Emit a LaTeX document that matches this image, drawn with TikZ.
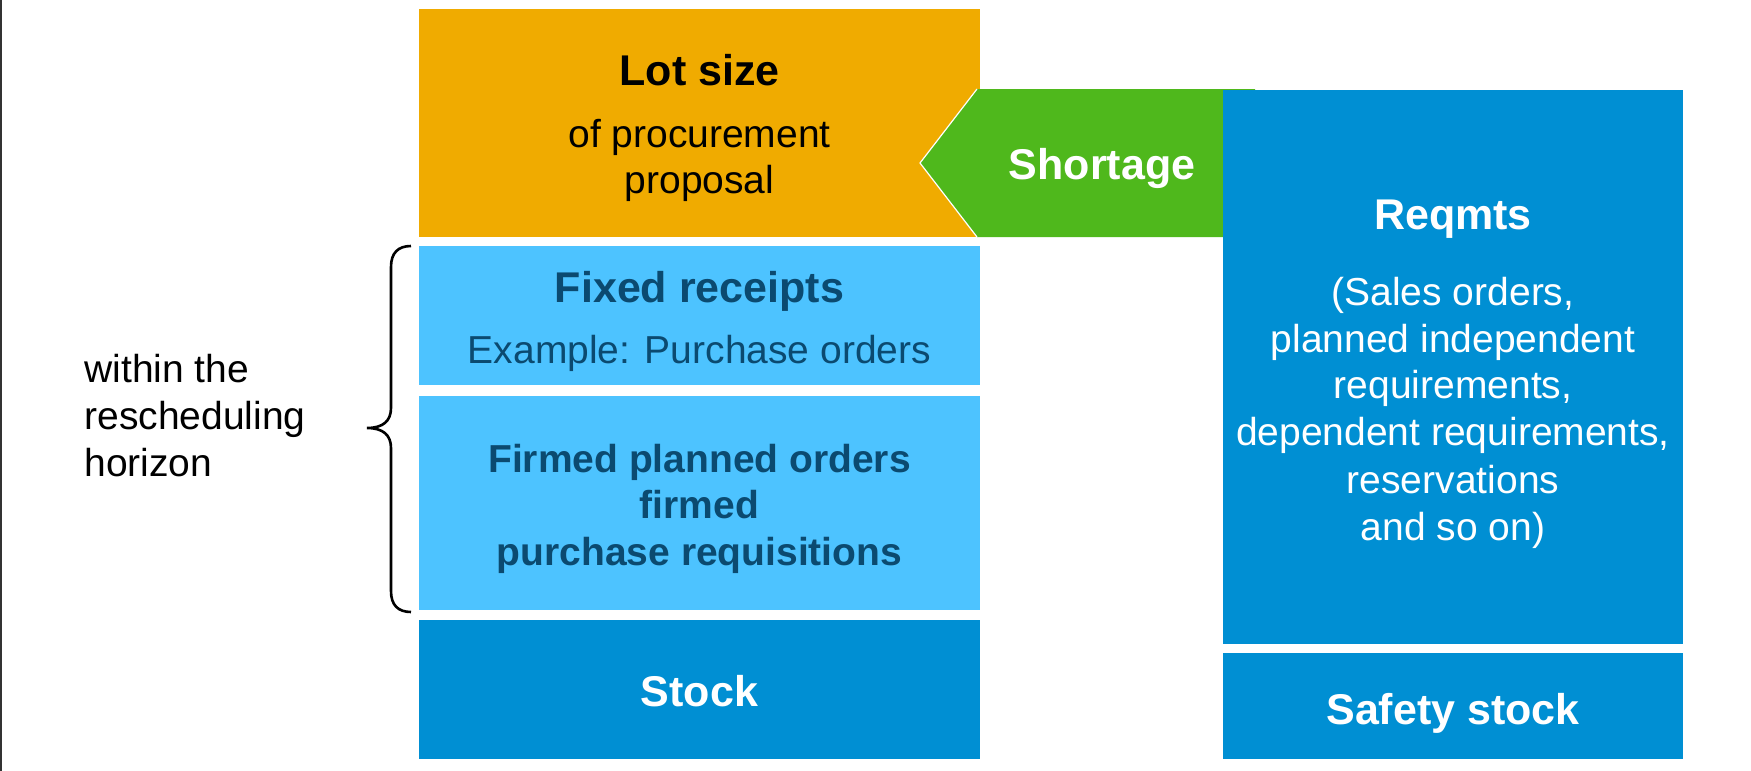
\documentclass[tikz,border=0pt]{standalone}
\usepackage{fontspec}
\setmainfont{Liberation Sans}
\usetikzlibrary{fit}
\definecolor{sapOrange}{HTML}{F0AB00}
\definecolor{sapLight}{HTML}{4DC3FF}
\definecolor{sapBlue}{HTML}{008FD3}
\definecolor{sapGreen}{HTML}{4FB81C}
\definecolor{darkText}{HTML}{0B4A70}
\definecolor{edgeGray}{HTML}{333333}
\begin{document}
\begin{tikzpicture}[x=0.5pt,y=-0.5pt,
  box/.style={inner sep=0pt, outer sep=0pt, draw=none},
  reg/.style={font=\fontsize{19.5}{23}\selectfont, inner sep=0pt, anchor=base},
  bld/.style={font=\fontsize{21.5}{25}\selectfont\bfseries, inner sep=0pt, anchor=base},
  bldsmall/.style={font=\fontsize{19.5}{23}\selectfont\bfseries, inner sep=0pt, anchor=base},
  leftlbl/.style={font=\fontsize{19.5}{23}\selectfont, inner sep=0pt, anchor=base west},
  bracestyle/.style={line width=1.3pt, black}
]
\useasboundingbox (0,0) rectangle (1751,771);
\fill[white] (0,0) rectangle (1751,771);
\draw[edgeGray, line width=0.8pt] (0.8,0) -- (0.8,771);

% left column
\node[box, fill=sapOrange, fit={(419,9) (980,237)}] (lot) {};
\node[box, fill=sapLight, fit={(419,246) (980,385)}] (fixed) {};
\node[box, fill=sapLight, fit={(419,396) (980,610)}] (firmed) {};
\node[box, fill=sapBlue, fit={(419,620) (980,759)}] (stock) {};

% shortage arrow
\coordinate (arTL) at (977,89);
\coordinate (arTR) at (1255,89);
\coordinate (arBR) at (1255,237);
\coordinate (arBL) at (977,237);
\coordinate (arTip) at (920,163);
\fill[sapGreen] (arTL) -- (arTR) -- (arBR) -- (arBL) -- (arTip) -- cycle;
\draw[white, line width=0.6pt] (arTL) -- (arTip) -- (arBL);

% right column
\node[box, fill=sapBlue, fit={(1223,90) (1683,644)}] (reqmts) {};
\node[box, fill=sapBlue, fit={(1223,653) (1683,759)}] (safety) {};

% texts left column
\node[bld] (t1) at (699.5,85) {Lot size};
\node[reg] (t2) at (699.5,147) {of procurement};
\node[reg] (t3) at (699.5,193) {proposal};
\node[bld, text=darkText] (t4) at (699.5,302) {Fixed receipts};
\node[reg, text=darkText] (t5) at (699.5,363) {Example: Purchase orders};
\node[bldsmall, text=darkText] (t6) at (699.5,472) {Firmed planned orders};
\node[bldsmall, text=darkText] (t7) at (699.5,518) {firmed};
\node[bldsmall, text=darkText] (t8) at (699.5,565) {purchase requisitions};
\node[bld, text=white] (t9) at (699.5,706) {Stock};

% shortage label
\node[bld, text=white] (sh) at (1102,179) {Shortage};

% texts right column
\node[bld, text=white] (r1) at (1453,229) {Reqmts};
\node[reg, text=white] (r2) at (1453,305) {(Sales orders,};
\node[reg, text=white] (r3) at (1453,352) {planned independent};
\node[reg, text=white] (r4) at (1453,398) {requirements,};
\node[reg, text=white] (r5) at (1453,445) {dependent requirements,};
\node[reg, text=white] (r6) at (1453,493) {reservations};
\node[reg, text=white] (r7) at (1453,540) {and so on)};
\node[bld, text=white] (s1) at (1453,724) {Safety stock};

% brace and left label
\coordinate (brTop) at (411,246);
\coordinate (brTip) at (367,428);
\coordinate (brBot) at (411,612);
\draw[bracestyle] (brTop) .. controls (398,246) and (391,253) .. (391,267) -- (391,408)
  .. controls (391,421) and (383,428) .. (brTip)
  .. controls (383,428) and (391,435) .. (391,448) -- (391,591)
  .. controls (391,605) and (398,612) .. (brBot);
\node[leftlbl] (l1) at (84,382) {within the};
\node[leftlbl] (l2) at (84,429) {rescheduling};
\node[leftlbl] (l3) at (84,476) {horizon};
\end{tikzpicture}
\end{document}
